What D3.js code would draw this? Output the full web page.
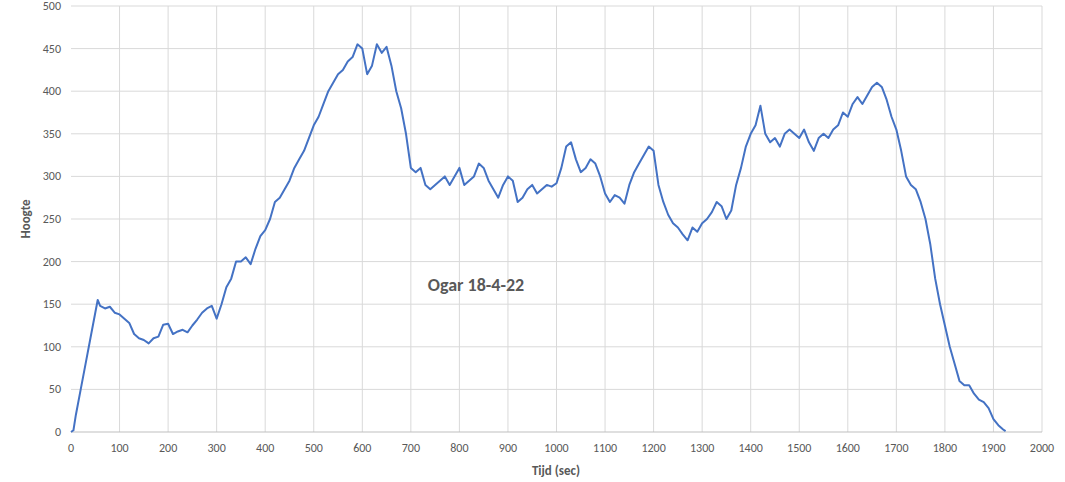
<!DOCTYPE html><html><head><meta charset="utf-8">
<script src="https://cdn.jsdelivr.net/npm/d3@7"></script>
<style>body{margin:0;background:#fff}text{font-family:Carlito,"Liberation Sans",Arial,sans-serif}</style></head><body>
<svg id="c" width="1065" height="482"></svg>
<script>
const times=[0,5,10,20,30,40,50,55,60,70,80,90,100,110,120,130,140,150,160,170,180,190,200,210,220,230,240,250,260,270,280,290,300,310,320,330,340,350,360,370,380,390,400,410,420,430,440,450,460,470,480,490,500,510,520,530,540,550,560,570,580,590,600,610,620,630,640,650,660,670,680,690,700,710,720,730,740,750,760,770,780,790,800,810,820,830,840,850,860,870,880,890,900,910,920,930,940,950,960,970,980,990,1000,1010,1020,1030,1040,1050,1060,1070,1080,1090,1100,1110,1120,1130,1140,1150,1160,1170,1180,1190,1200,1210,1220,1230,1240,1250,1260,1270,1280,1290,1300,1310,1320,1330,1340,1350,1360,1370,1380,1390,1400,1410,1420,1430,1440,1450,1460,1470,1480,1490,1500,1510,1520,1530,1540,1550,1560,1570,1580,1590,1600,1610,1620,1630,1640,1650,1660,1670,1680,1690,1700,1710,1720,1730,1740,1750,1760,1770,1780,1790,1800,1810,1820,1830,1840,1850,1860,1870,1880,1890,1900,1910,1920,1925];
const heights=[0,2,20,50,80,110,140,155,148,145,147,140,138,133,128,115,110,108,104,110,112,126,127,115,118,120,117,125,132,140,145,148,133,150,170,180,200,200,205,197,215,230,237,250,270,275,285,295,310,320,330,345,360,370,385,400,410,420,425,435,440,455,450,420,430,455,445,452,430,400,380,350,310,305,310,290,285,290,295,300,290,300,310,290,295,300,315,310,295,285,275,290,300,295,270,275,285,290,280,285,290,288,292,310,335,340,320,305,310,320,315,300,280,270,278,275,268,290,305,315,325,335,330,290,270,255,245,240,232,225,240,235,245,250,258,270,265,250,260,290,310,335,350,360,383,350,340,345,335,350,355,350,345,355,340,330,345,350,345,355,360,375,370,385,393,385,395,405,410,405,390,370,355,330,300,290,285,270,250,220,180,150,125,100,80,60,55,55,45,38,35,28,15,8,3,1];
const xTicks=d3.range(0,2001,100), yTicks=d3.range(0,501,50);
const title="Ogar 18-4-22";
const svg=d3.select("#c");
const x=d3.scaleLinear().domain([0,2000]).range([71,1042]);
const y=d3.scaleLinear().domain([0,500]).range([432,6]);
svg.append("g").selectAll("line").data(yTicks.slice(1)).join("line").attr("x1",71).attr("x2",1042).attr("y1",d=>y(d)).attr("y2",d=>y(d)).attr("stroke","#d9d9d9");
svg.append("g").selectAll("line").data(xTicks.slice(1)).join("line").attr("x1",d=>x(d)).attr("x2",d=>x(d)).attr("y1",6).attr("y2",432).attr("stroke","#d9d9d9");
svg.append("line").attr("x1",71).attr("x2",1042).attr("y1",432).attr("y2",432).attr("stroke","#bfbfbf");
svg.append("g").selectAll("text").data(yTicks).join("text").attr("x",61).attr("y",d=>y(d)+4).attr("text-anchor","end").attr("font-size",12).attr("fill","#595959").text(d=>d);
svg.append("g").selectAll("text").data(xTicks).join("text").attr("x",d=>x(d)).attr("y",452).attr("text-anchor","middle").attr("font-size",12).attr("fill","#595959").text(d=>d);
svg.append("path").datum(times.map((t,i)=>[t,heights[i]])).attr("fill","none").attr("stroke","#4472c4").attr("stroke-width",2).attr("stroke-linejoin","round").attr("d",d3.line().x(d=>x(d[0])).y(d=>y(d[1])));
svg.append("text").attr("x",476).attr("y",291).attr("text-anchor","middle").attr("font-size",18).attr("font-weight","bold").attr("fill","#595959").text(title);
svg.append("text").attr("x",556).attr("y",475).attr("text-anchor","middle").attr("font-size",13).attr("font-weight","bold").attr("fill","#595959").text("Tijd (sec)");
svg.append("text").attr("transform","translate(30,219) rotate(-90)").attr("text-anchor","middle").attr("font-size",13).attr("font-weight","bold").attr("fill","#595959").text("Hoogte");
</script></body></html>
